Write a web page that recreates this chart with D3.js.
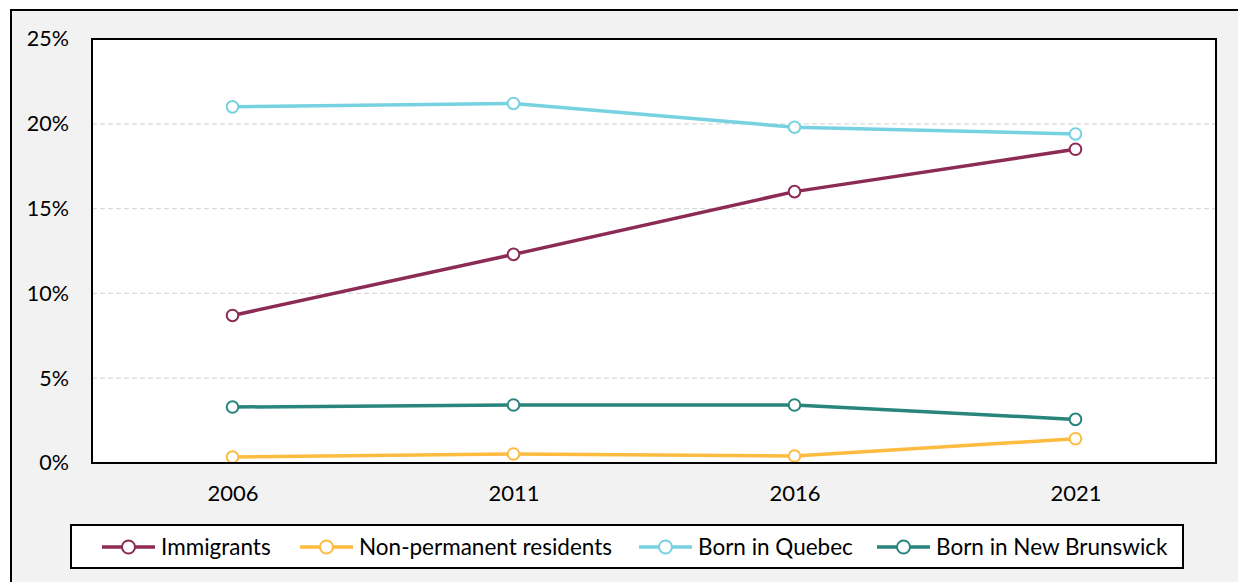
<!DOCTYPE html>
<html>
<head>
<meta charset="utf-8">
<script src="https://cdn.jsdelivr.net/npm/d3@7"></script>
<style>
  html, body { margin: 0; padding: 0; background: #ffffff; }
  svg { display: block; }
  text { font-family: Lato, "Open Sans", sans-serif; fill: #000; }
</style>
</head>
<body>
<svg id="chart" width="1238" height="582"></svg>
<script>
// Census years on the horizontal axis
const years = ["2006", "2011", "2016", "2021"];

// Share (%) for each population group
const immigrants = [8.7, 12.3, 16.0, 18.5];
const nonPermanent = [0.35, 0.53, 0.41, 1.43];
const bornQuebec = [21.0, 21.2, 19.8, 19.4];
const bornNewBrunswick = [3.3, 3.42, 3.42, 2.57];

const seriesNames = ["Immigrants", "Non-permanent residents", "Born in Quebec", "Born in New Brunswick"];
const seriesColors = ["#8c2b55", "#fdbb40", "#76d2e0", "#27857c"];
const yTicks = [0, 5, 10, 15, 20, 25];

const series = [immigrants, nonPermanent, bornQuebec, bornNewBrunswick].map((values, i) => ({
  name: seriesNames[i],
  color: seriesColors[i],
  values: values
}));

const svg = d3.select("#chart");
const labelFont = "Lato, 'Open Sans', sans-serif";

// outer frame
svg.append("rect")
  .attr("x", 11).attr("y", 10)
  .attr("width", 1250).attr("height", 600)
  .attr("fill", "#f2f2f2")
  .attr("stroke", "#000").attr("stroke-width", 2);

const plot = { left: 92, top: 39, right: 1216, bottom: 463 };

const x = d3.scalePoint()
  .domain(years)
  .range([plot.left, plot.right])
  .padding(0.5);

const y = d3.scaleLinear()
  .domain([0, 25])
  .range([plot.bottom, plot.top]);

// plot background
svg.append("rect")
  .attr("x", plot.left).attr("y", plot.top)
  .attr("width", plot.right - plot.left)
  .attr("height", plot.bottom - plot.top)
  .attr("fill", "#ffffff");

// dashed gridlines
svg.append("g")
  .selectAll("line")
  .data(yTicks.filter(t => t > 0 && t < 25))
  .join("line")
  .attr("x1", plot.left).attr("x2", plot.right)
  .attr("y1", d => y(d)).attr("y2", d => y(d))
  .attr("stroke", "#d9d9d9")
  .attr("stroke-width", 1.2)
  .attr("stroke-dasharray", "5,3");

// y axis labels
const yAxis = d3.axisLeft(y)
  .tickValues(yTicks)
  .tickFormat(d => d + "%")
  .tickSize(0)
  .tickPadding(23);
const yg = svg.append("g")
  .attr("transform", `translate(${plot.left},0)`)
  .call(yAxis);
yg.select(".domain").remove();
yg.selectAll("text")
  .style("font-family", labelFont)
  .style("font-size", "21.5px")
  .attr("fill", "#000");

// x axis labels
const xAxis = d3.axisBottom(x).tickSize(0).tickPadding(22);
const xg = svg.append("g")
  .attr("transform", `translate(0,${plot.bottom})`)
  .call(xAxis);
xg.select(".domain").remove();
xg.selectAll("text")
  .style("font-family", labelFont)
  .style("font-size", "22px")
  .attr("fill", "#000");

// lines
const line = d3.line()
  .x((d, i) => x(years[i]))
  .y(d => y(d));

const lines = svg.append("g");
series.forEach(s => {
  lines.append("path")
    .datum(s.values)
    .attr("d", line)
    .attr("fill", "none")
    .attr("stroke", s.color)
    .attr("stroke-width", 3.5)
    .attr("stroke-linejoin", "round");
});

// markers
series.forEach(s => {
  lines.append("g")
    .selectAll("circle")
    .data(s.values)
    .join("circle")
    .attr("cx", (d, i) => x(years[i]))
    .attr("cy", d => y(d))
    .attr("r", 5.8)
    .attr("fill", "#ffffff")
    .attr("stroke", s.color)
    .attr("stroke-width", 2);
});

// plot frame
svg.append("rect")
  .attr("x", plot.left).attr("y", plot.top)
  .attr("width", plot.right - plot.left)
  .attr("height", plot.bottom - plot.top)
  .attr("fill", "none")
  .attr("stroke", "#000").attr("stroke-width", 2);

// legend
const legend = svg.append("g");
legend.append("rect")
  .attr("x", 71).attr("y", 525)
  .attr("width", 1112).attr("height", 43)
  .attr("fill", "#ffffff")
  .attr("stroke", "#000").attr("stroke-width", 2);

const legendX = [102, 300, 639, 877];
const legendY = 547;
series.forEach((s, i) => {
  const g = legend.append("g").attr("transform", `translate(${legendX[i]},${legendY})`);
  g.append("line")
    .attr("x1", 0).attr("x2", 53)
    .attr("y1", 0).attr("y2", 0)
    .attr("stroke", s.color).attr("stroke-width", 3.5);
  g.append("circle")
    .attr("cx", 26.5).attr("cy", 0).attr("r", 6.5)
    .attr("fill", "#ffffff")
    .attr("stroke", s.color).attr("stroke-width", 2);
  g.append("text")
    .attr("x", 59).attr("y", 0)
    .attr("dy", "0.35em")
    .style("font-size", "22.5px")
    .text(s.name);
});
</script>
</body>
</html>
